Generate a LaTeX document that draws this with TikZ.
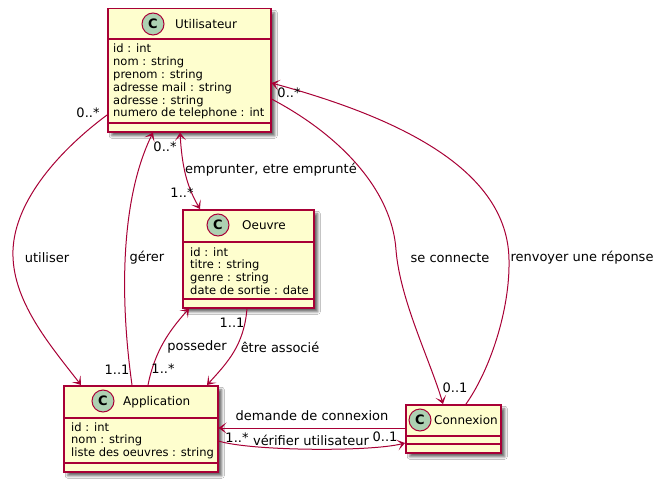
\documentclass[tikz,border=0pt]{standalone}
\usepackage{fontspec}
\setmainfont{DejaVu Sans}
\usetikzlibrary{arrows.meta,shadows.blur}
\definecolor{pborder}{HTML}{A80036}
\definecolor{classbg}{HTML}{FEFECE}
\definecolor{circbg}{HTML}{ADD1B2}
\newcommand\attrfont{\fontsize{11.5}{13}\selectfont}
\newcommand\titlefont{\fontsize{12}{14}\selectfont}
\newcommand\lblfont{\fontsize{13}{15}\selectfont}
\begin{document}
\begin{tikzpicture}[x=1pt,y=-1pt,
  classbox/.style={rectangle, draw=pborder, line width=1.5pt, fill=classbg, inner sep=0pt, anchor=north west,
    blur shadow={shadow xshift=4pt, shadow yshift=-4pt, shadow blur radius=2.5pt, shadow opacity=60}},
  sepline/.style={draw=pborder, line width=1.5pt},
  cicon/.style={circle, draw=pborder, line width=1pt, fill=circbg, minimum size=22pt, inner sep=0pt,
    font=\bfseries\fontsize{13}{13}\selectfont},
  ctitle/.style={anchor=base west, inner sep=0pt, font=\titlefont},
  attr/.style={anchor=base west, inner sep=0pt, font=\attrfont},
  tipv/.tip={Stealth[length=8pt,width=11pt,inset=4.5pt]},
  rel/.style={draw=pborder, line width=1pt, -tipv},
  relboth/.style={draw=pborder, line width=1pt, tipv-tipv},
  lbl/.style={inner sep=0pt, font=\lblfont}
]
\fill[white] (0,0) rectangle (660,484);
\useasboundingbox (0,0) rectangle (660,484);

% ---------- Utilisateur
\node[classbox, minimum width=163pt, minimum height=123pt] (U) at (107,8) {};
\draw[sepline] (U.west |- 0,39) -- (U.east |- 0,39);
\draw[sepline] (U.west |- 0,123) -- (U.east |- 0,123);
\node[cicon] (Uc) at (153,24) {C};
\node[ctitle] (Ut) at (175,28.5) {Utilisateur};
\foreach \t [count=\i] in {id : int, nom : string, prenom : string, adresse mail : string, adresse : string, numero de telephone : int}
  \node[attr] (Ua\i) at (113,{53+12.8*(\i-1)}) {\t};

% ---------- Oeuvre
\node[classbox, minimum width=131pt, minimum height=98pt] (O) at (182,209) {};
\draw[sepline] (O.west |- 0,242) -- (O.east |- 0,242);
\draw[sepline] (O.west |- 0,299) -- (O.east |- 0,299);
\node[cicon] (Oc) at (218,225) {C};
\node[ctitle] (Ot) at (242,229.5) {Oeuvre};
\foreach \t [count=\i] in {id : int, titre : string, genre : string, date de sortie : date}
  \node[attr] (Oa\i) at (190,{256+12.9*(\i-1)}) {\t};

% ---------- Application
\node[classbox, minimum width=154pt, minimum height=86pt] (A) at (63,385) {};
\draw[sepline] (A.west |- 0,418) -- (A.east |- 0,418);
\draw[sepline] (A.west |- 0,463) -- (A.east |- 0,463);
\node[cicon] (Ac) at (103,401) {C};
\node[ctitle] (At) at (123,405.5) {Application};
\foreach \t [count=\i] in {id : int, nom : string, liste des oeuvres : string}
  \node[attr] (Aa\i) at (71,{431+12.9*(\i-1)}) {\t};

% ---------- Connexion
\node[classbox, minimum width=95pt, minimum height=48pt] (C) at (405,404) {};
\draw[sepline] (C.west |- 0,436) -- (C.east |- 0,436);
\draw[sepline] (C.west |- 0,444) -- (C.east |- 0,444);
\node[cicon] (Cc) at (420,420) {C};
\node[ctitle] (Ct) at (434,424.5) {Connexion};

% ---------- relations
% utiliser
\draw[rel] (U.west |- 0,115) .. controls (60,150) and (15,200) .. (13,250)
  .. controls (11,300) and (50,345) .. (A.north -| 81,0);
% gerer
\draw[rel] (A.north -| 132,0) .. controls (120,300) and (120,200) .. (U.south -| 153,0);
% emprunter
\draw[relboth] (U.south -| 180,0) .. controls (182,165) and (186,185) .. (O.north -| 200,0);
% se connecte
\draw[rel] (U.east |- 0,99) .. controls (340,135) and (392,190) .. (396,250)
  .. controls (400,300) and (430,360) .. (C.north -| 443,0);
% renvoyer une reponse
\draw[rel] (C.north -| 466,0) .. controls (490,370) and (510,310) .. (509,260)
  .. controls (508,170) and (400,118) .. (U.east |- 0,83);
% posseder
\draw[rel] (A.north -| 148,0) .. controls (155,350) and (170,330) .. (O.south -| 189,0);
% etre associe
\draw[rel] (O.south -| 247,0) .. controls (244,345) and (228,362) .. (A.north -| 207,0);
% demande de connexion
\draw[rel] (C.west |- 0,428) -- (A.east |- 0,428);
% verifier utilisateur
\draw[rel] (A.east |- 0,441) .. controls (250,451) and (370,452) .. (C.west |- 0,443);

% ---------- labels
\node[lbl] (l1) at (47,258) {utiliser};
\node[lbl] (m1) at (88,113) {0..*};
\node[lbl] (l2) at (147,258) {gérer};
\node[lbl] (m2) at (117,370) {1..1};
\node[lbl] (l3) at (271,170) {emprunter, etre emprunté};
\node[lbl] (m3a) at (165,147) {0..*};
\node[lbl] (m3b) at (182,193) {1..*};
\node[lbl] (l4) at (450,258) {se connecte};
\node[lbl] (m4) at (455,388) {0..1};
\node[lbl] (l5) at (582,258) {renvoyer une réponse};
\node[lbl] (m5) at (289,93) {0..*};
\node[lbl] (l6) at (197,347) {posseder};
\node[lbl] (m6) at (163,369) {1..*};
\node[lbl] (l7) at (280,347) {être associé};
\node[lbl] (m7) at (232,323) {1..1};
\node[lbl] (l8) at (312,416) {demande de connexion};
\node[lbl] (l9) at (311,440) {vérifier utilisateur};
\node[lbl] (m9a) at (237,438) {1..*};
\node[lbl] (m9b) at (385,437) {0..1};
\end{tikzpicture}
\end{document}
